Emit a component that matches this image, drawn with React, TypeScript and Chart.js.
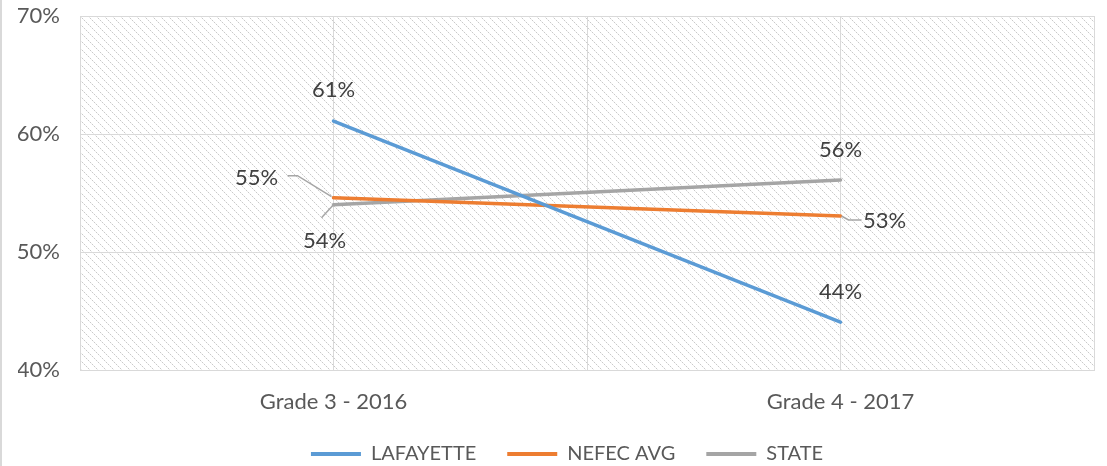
import React, { useEffect, useRef } from "react";
import { Chart, registerables } from "chart.js";

Chart.register(...registerables);

const categories = ["Grade 3 - 2016", "Grade 4 - 2017"];
const lafayette = [61.1, 44.05];
const nefecAvg = [54.6, 53.05];
const stateAvg = [54.0, 56.1];
const seriesNames = ["LAFAYETTE", "NEFEC AVG", "STATE"];
const seriesColors = ["#5B9BD5", "#ED7D31", "#A5A5A5"];
const yTicks = [40, 50, 60, 70];

const FONT = "Lato, 'Open Sans', sans-serif";

// label placement: [dx, dy] from point, optional leader path (relative to point)
const labelPlacement: Record<string, { dx: number; dy: number; leader?: number[][] }> = {
  "0-0": { dx: 0, dy: -31 },
  "0-1": { dx: 0, dy: -30 },
  "1-0": { dx: -77, dy: -20, leader: [[-46, -22], [-36, -22], [-2, -1]] },
  "1-1": { dx: 44, dy: 5, leader: [[1, 0], [8, 4], [21, 4]] },
  "2-0": { dx: -9, dy: 36, leader: [[-12, 13], [0, 0]] },
  "2-1": { dx: 0, dy: -30 },
};

function makePattern(): CanvasPattern | string {
  const c = document.createElement("canvas");
  c.width = 8;
  c.height = 8;
  const g = c.getContext("2d");
  if (!g) return "#fff";
  g.fillStyle = "#ffffff";
  g.fillRect(0, 0, 8, 8);
  for (let i = 0; i < 8; i++) {
    g.fillStyle = i % 2 === 0 ? "#c9c9c9" : "#ececec";
    g.fillRect(i, i, 1, 1);
  }
  const p = g.createPattern(c, "repeat");
  return p || "#fff";
}

const bgPlugin = {
  id: "hatchBg",
  afterLayout(chart: any) {
    if (chart.legend) {
      chart.legend.left += 11;
      chart.legend.right += 11;
    }
  },
  beforeDraw(chart: any) {
    const { ctx, chartArea } = chart;
    ctx.save();
    ctx.fillStyle = "#ffffff";
    ctx.fillRect(0, 0, chart.width, chart.height);
    ctx.fillStyle = makePattern();
    ctx.fillRect(chartArea.left, chartArea.top, chartArea.right - chartArea.left, chartArea.bottom - chartArea.top);
    ctx.fillStyle = "#d9d9d9";
    ctx.fillRect(0, 0, 2, chart.height);
    ctx.restore();
  },
};

const labelPlugin = {
  id: "valueLabels",
  afterDatasetsDraw(chart: any) {
    const { ctx } = chart;
    ctx.save();
    chart.data.datasets.forEach((ds: any, di: number) => {
      const meta = chart.getDatasetMeta(di);
      meta.data.forEach((pt: any, i: number) => {
        const pl = labelPlacement[`${di}-${i}`];
        if (!pl) return;
        const x = pt.x;
        const y = pt.y;
        if (pl.leader) {
          ctx.strokeStyle = "#A6A6A6";
          ctx.lineWidth = 1.5;
          ctx.beginPath();
          pl.leader.forEach((p, k) => {
            if (k === 0) ctx.moveTo(x + p[0], y + p[1]);
            else ctx.lineTo(x + p[0], y + p[1]);
          });
          ctx.stroke();
        }
        ctx.fillStyle = "#404040";
        ctx.font = `22px ${FONT}`;
        ctx.textAlign = "center";
        ctx.textBaseline = "middle";
        ctx.fillText(`${Math.round(ds.data[i])}%`, x + pl.dx, y + pl.dy);
      });
    });
    ctx.restore();
  },
};

export default function App() {
  const ref = useRef<HTMLCanvasElement | null>(null);
  useEffect(() => {
    document.body.style.margin = "0";
    if (!ref.current) return;
    const values = [lafayette, nefecAvg, stateAvg];
    const chart = new Chart(ref.current, {
      type: "line",
      data: {
        labels: categories,
        datasets: seriesNames.map((name, i) => ({
          label: name,
          data: values[i],
          borderColor: seriesColors[i],
          backgroundColor: seriesColors[i],
          borderWidth: 3.5,
          pointRadius: 0,
          borderCapStyle: "round" as const,
          tension: 0,
        })),
      },
      options: {
        responsive: false,
        animation: false,
        layout: { padding: { left: 18, right: 13, top: 16, bottom: -8 } },
        plugins: {
          tooltip: { enabled: false },
          legend: {
            position: "bottom",
            labels: {
              boxWidth: 50,
              boxHeight: 4,
              padding: 31,
              color: "#595959",
              font: { family: FONT, size: 20 },
              generateLabels(chart: any) {
                return chart.data.datasets.map((ds: any, i: number) => ({
                  text: ds.label,
                  fillStyle: ds.borderColor,
                  strokeStyle: ds.borderColor,
                  lineWidth: 0,
                  datasetIndex: i,
                  fontColor: "#595959",
                }));
              },
            },
          },
        },
        scales: {
          x: {
            type: "category",
            offset: true,
            grid: { color: "#d9d9d9", offset: false, drawTicks: false },
            border: { color: "#d9d9d9" },
            ticks: { color: "#595959", padding: 21, font: { family: FONT, size: 22, lineHeight: 1 } },
            afterFit(scale: any) {
              scale.height = 43;
            },
          },
          x2: {
            type: "category",
            offset: true,
            position: "bottom",
            display: true,
            grid: { color: "#d9d9d9", offset: true, drawTicks: false },
            border: { display: false },
            ticks: { display: false },
            afterFit(scale: any) {
              scale.height = 0;
            },
          },
          y: {
            min: 40,
            max: 70,
            afterBuildTicks(scale: any) {
              scale.ticks = yTicks.map((v) => ({ value: v }));
            },
            grid: { color: "#d9d9d9", drawTicks: true, tickLength: 20, tickColor: "rgba(0,0,0,0)" },
            border: { display: false },
            ticks: {
              color: "#595959",
              padding: 0,
              font: { family: FONT, size: 22 },
              callback: (v: any) => `${v}%`,
            },
            afterFit(scale: any) {
              scale.width = 62;
            },
          },
        },
      },
      plugins: [bgPlugin, labelPlugin],
    } as any);
    return () => chart.destroy();
  }, []);
  return <canvas ref={ref} width={1107} height={466} style={{ display: "block" }} />;
}
